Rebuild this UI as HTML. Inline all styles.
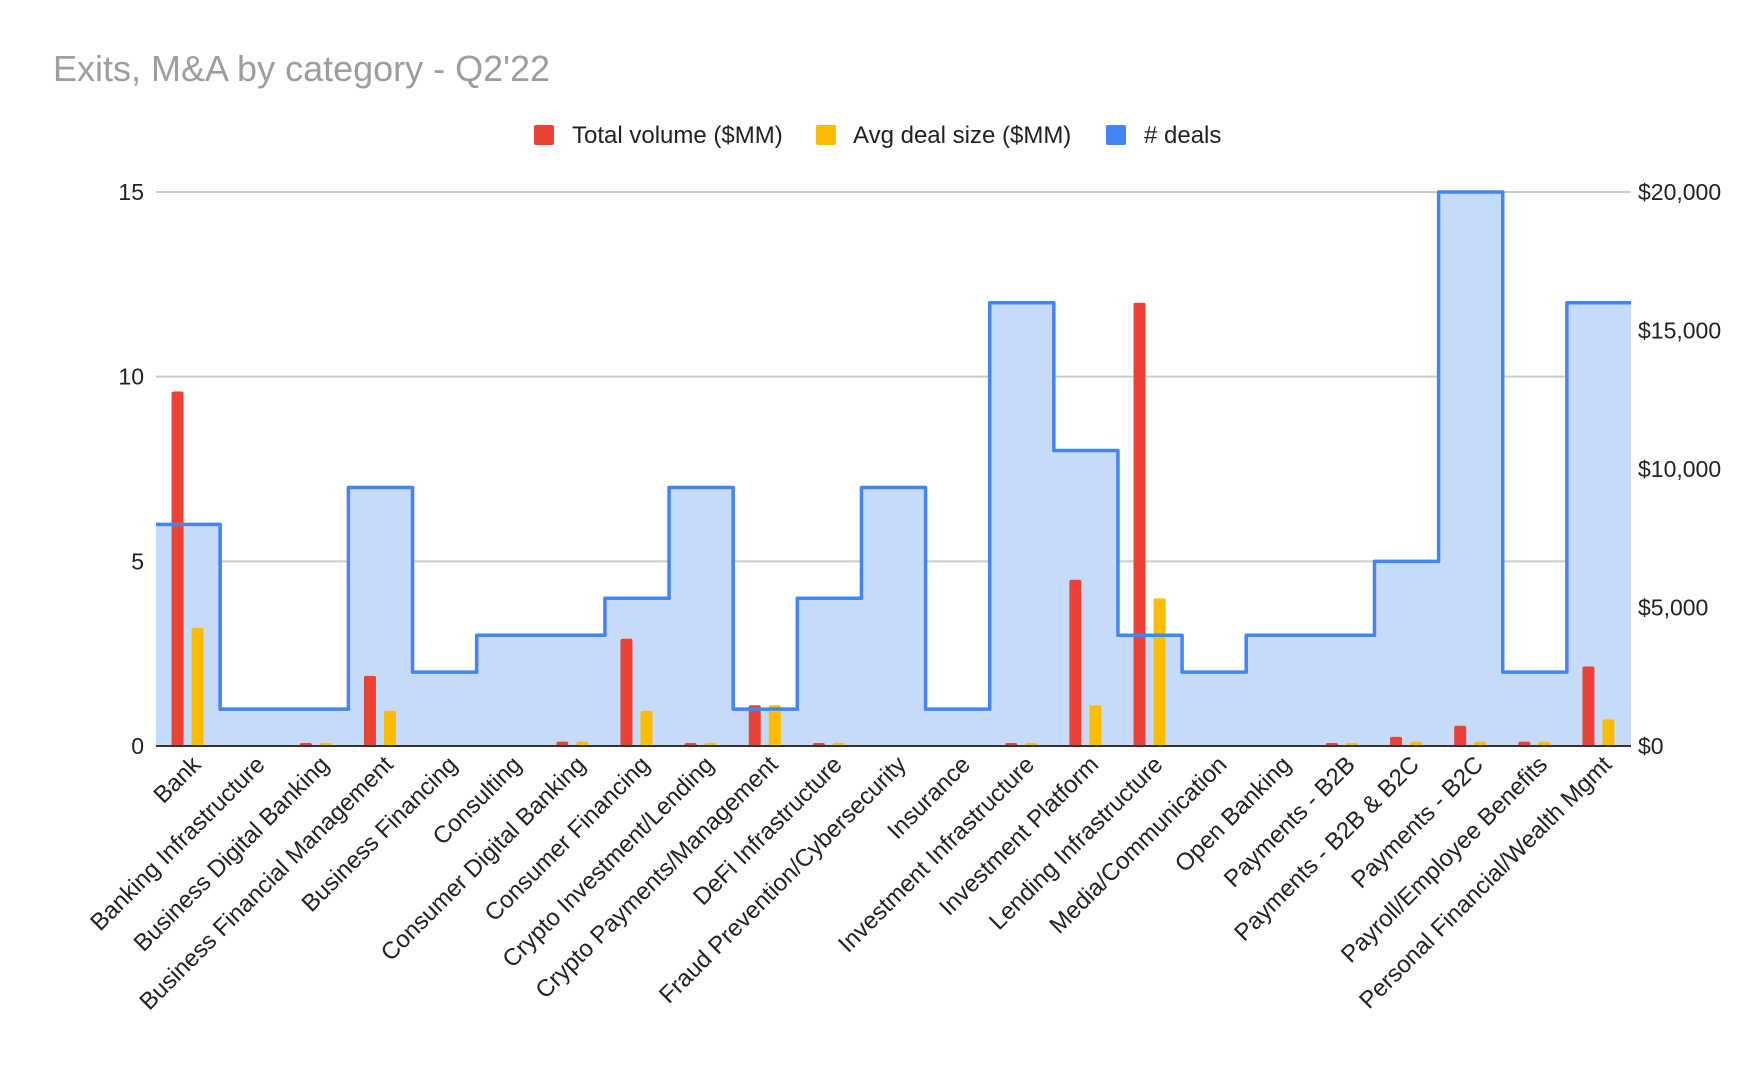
<!DOCTYPE html>
<html><head><meta charset="utf-8"><style>
body{margin:0;background:#fff;width:1738px;height:1074px;overflow:hidden}
svg text{font-family:"Liberation Sans",Arial,sans-serif}
</style></head><body>
<svg id="chart" width="1738" height="1074" xmlns="http://www.w3.org/2000/svg">
<text x="53" y="81" font-size="36" fill="#9e9e9e">Exits, M&amp;A by category - Q2'22</text>
<g>
<rect x="534" y="125" width="20" height="20" rx="2" fill="#ea4335"/>
<text x="572" y="143" font-size="24" fill="#222">Total volume ($MM)</text>
<rect x="816" y="125" width="20" height="20" rx="2" fill="#fbbc04"/>
<text x="853" y="143" font-size="24" fill="#222">Avg deal size ($MM)</text>
<rect x="1106" y="125" width="20" height="20" rx="2" fill="#4285f4"/>
<text x="1144" y="143" font-size="24" fill="#222"># deals</text>
</g>
<g id="grid"></g><g id="area"></g><g id="bars"></g><g id="axes"></g>
</svg>
<script>
const categories=["Bank","Banking Infrastructure","Business Digital Banking","Business Financial Management","Business Financing","Consulting","Consumer Digital Banking","Consumer Financing","Crypto Investment/Lending","Crypto Payments/Management","DeFi Infrastructure","Fraud Prevention/Cybersecurity","Insurance","Investment Infrastructure","Investment Platform","Lending Infrastructure","Media/Communication","Open Banking","Payments - B2B","Payments - B2B & B2C","Payments - B2C","Payroll/Employee Benefits","Personal Financial/Wealth Mgmt"];
const deals=[6,1,1,7,2,3,3,4,7,1,4,7,1,12,8,3,2,3,3,5,15,2,12];
const totalVolume=[12800,0,70,2530,0,0,160,3870,80,1470,15,0,0,80,6000,16000,0,0,70,330,730,160,2870];
const avgDealSize=[4270,0,70,1270,0,0,160,1270,20,1470,15,0,0,70,1470,5330,0,0,70,160,160,160,960];
const leftTicks=[0,5,10,15];
const rightTicks=[0,5000,10000,15000,20000];
const rightTickLabels=["$0","$5,000","$10,000","$15,000","$20,000"];

const NS="http://www.w3.org/2000/svg";
const X0=156,X1=1631,Y0=746,Y1=192;
const band=(X1-X0)/categories.length;
const yL=v=>Y0-(v/15)*(Y0-Y1);
const yR=v=>Y0-(v/20000)*(Y0-Y1);
const xC=i=>X0+band*(i+0.5);
function mk(tag,attrs,parent){const e=document.createElementNS(NS,tag);for(const k in attrs)e.setAttribute(k,attrs[k]);document.getElementById(parent).appendChild(e);return e;}

leftTicks.forEach(t=>{
  if(t>0){const g=mk('line',{x1:X0,x2:X1,y1:yL(t),y2:yL(t),stroke:'#cccccc','stroke-width':2},'grid');
  
  }
  const l=mk('text',{x:144,y:yL(t)+8,'font-size':23,'text-anchor':'end',fill:'#222'},'axes');
  l.textContent=t;
  
  
});
rightTicks.forEach((t,i)=>{
  const l=mk('text',{x:1638,y:yR(t)+8,'font-size':23,fill:'#222'},'axes');
  l.textContent=rightTickLabels[i];
  
  
});

let d='',fill='M'+X0+','+Y0;
deals.forEach((v,i)=>{
  const xa=X0+band*i,xb=X0+band*(i+1),y=yL(v);
  d+=(i===0?'M':'L')+xa+','+y+' L'+xb+','+y+' ';
  fill+=' L'+xa+','+y+' L'+xb+','+y;
});
fill+=' L'+X1+','+Y0+' Z';
const fa=mk('path',{d:fill,fill:'#c6dafa'},'area');



const bw=12;
categories.forEach((c,i)=>{
  const cx=xC(i);
  const h1=Math.max(Y0-yR(totalVolume[i]),totalVolume[i]>0?3:0);
  const r=mk('rect',{x:cx-10.5-bw/2,y:Y0-h1,width:bw,height:h1,rx:2,fill:'#ea4335'},'bars');
  
  
  const h2=Math.max(Y0-yR(avgDealSize[i]),avgDealSize[i]>0?3:0);
  const y=mk('rect',{x:cx+9.5-bw/2,y:Y0-h2,width:bw,height:h2,rx:2,fill:'#fbbc04'},'bars');
  
  
  const lx=cx+14,ly=766;
  const t=mk('text',{x:lx,y:ly,'font-size':24,'text-anchor':'end',fill:'#222',transform:'rotate(-45 '+lx+' '+ly+')'},'axes');
  t.textContent=c;
  
  
});
const ln=mk('path',{d:d,fill:'none',stroke:'#4285f4','stroke-width':3.5,'stroke-linejoin':'round'},'bars');


const base=mk('line',{x1:X0,x2:X1,y1:Y0,y2:Y0,stroke:'#333','stroke-width':2},'bars');


</script>
</body></html>
